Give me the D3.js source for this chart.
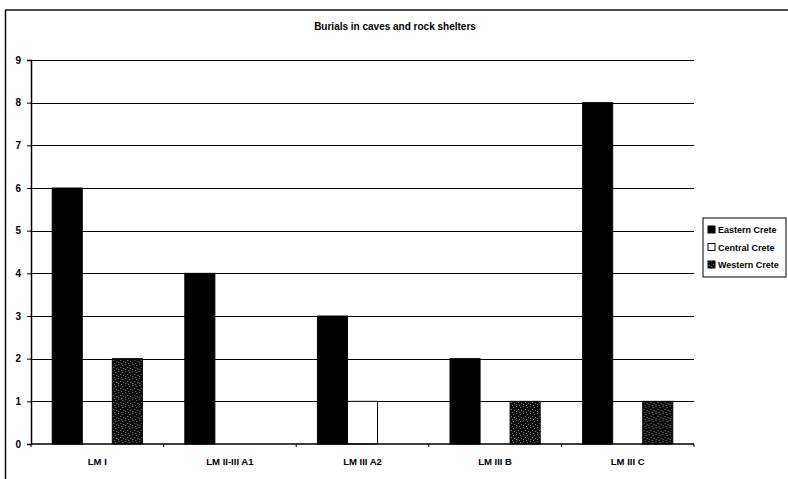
<!DOCTYPE html>
<html>
<head>
<meta charset="utf-8">
<script src="https://cdn.jsdelivr.net/npm/d3@7"></script>
<style>
  html, body { margin: 0; padding: 0; background: #fff; }
  svg { display: block; font-family: "Liberation Sans", Arial, sans-serif; }
</style>
</head>
<body>
<svg id="chart" width="788" height="479"></svg>
<script>
// Burials in caves and rock shelters, by period and region of Crete
const periods = ["LM I", "LM II-III A1", "LM III A2", "LM III B", "LM III C"];
const regions = ["Eastern Crete", "Central Crete", "Western Crete"];
const easternCrete = [6, 4, 3, 2, 8];
const centralCrete = [0, 0, 1, 0, 0];
const westernCrete = [2, 0, 0, 1, 1];
const yTicks = [0, 1, 2, 3, 4, 5, 6, 7, 8, 9];
const title = "Burials in caves and rock shelters";

const seriesValues = [easternCrete, centralCrete, westernCrete];
const rows = periods.map((p, i) => ({
  period: p,
  values: regions.map((r, j) => ({ region: r, value: seriesValues[j][i] }))
}));

const svg = d3.select("#chart");
const W = 788, H = 479;
const margin = { left: 31, right: 94, top: 60, bottom: 35 };

// Speckled dark fill for the western series
const defs = svg.append("defs");
const pat = defs.append("pattern")
  .attr("id", "speckle").attr("patternUnits", "userSpaceOnUse")
  .attr("width", 7).attr("height", 7);
pat.append("rect").attr("width", 7).attr("height", 7).attr("fill", "#0c0c0c");
[[0, 1], [3, 0], [5, 3], [1, 4], [6, 6], [3, 5]].forEach(([x, y]) =>
  pat.append("rect").attr("x", x).attr("y", y).attr("width", 1).attr("height", 1)
    .attr("fill", "#7a7a7a"));

const fills = { "Eastern Crete": "#000", "Central Crete": "#fff", "Western Crete": "url(#speckle)" };

// Outer frame (left and top edges)
svg.append("line").attr("x1", 5.5).attr("x2", 5.5).attr("y1", 10).attr("y2", H)
  .attr("stroke", "#111").attr("stroke-width", 1.5);
svg.append("line").attr("x1", 5).attr("x2", W).attr("y1", 10).attr("y2", 10)
  .attr("stroke", "#111").attr("stroke-width", 1.5);

const x0 = d3.scaleBand().domain(periods).range([margin.left, W - margin.right])
  .paddingInner(0.32).paddingOuter(0.16);
const x1 = d3.scaleBand().domain(regions).range([0, x0.bandwidth()]);
const y = d3.scaleLinear().domain([0, 9]).range([H - margin.bottom, margin.top]);

// Gridlines
svg.append("g").selectAll("line").data(yTicks.filter(t => t > 0)).join("line")
  .attr("x1", margin.left).attr("x2", W - margin.right)
  .attr("y1", d => Math.round(y(d)) + 0.5).attr("y2", d => Math.round(y(d)) + 0.5)
  .attr("stroke", "#000").attr("stroke-width", 1);

// Bars
svg.append("g").selectAll("g").data(rows).join("g")
  .attr("transform", d => `translate(${x0(d.period)},0)`)
  .selectAll("rect").data(d => d.values).join("rect")
  .attr("x", d => x1(d.region))
  .attr("y", d => y(d.value))
  .attr("width", x1.bandwidth())
  .attr("height", d => y(0) - y(d.value))
  .attr("fill", d => fills[d.region])
  .attr("stroke", d => d.value > 0 ? "#000" : "none")
  .attr("stroke-width", 1);

// Y axis
const yAxis = svg.append("g").attr("transform", `translate(${margin.left},0)`)
  .call(d3.axisLeft(y).tickValues(yTicks).tickFormat(d3.format("d")).tickSize(4).tickPadding(6));
yAxis.select(".domain").attr("stroke", "#000").attr("stroke-width", 1.5);
yAxis.selectAll("text").attr("font-size", 10).attr("font-weight", "bold").attr("fill", "#000");

// X axis with ticks between categories
const xAxis = svg.append("g").attr("transform", `translate(0,${y(0)})`);
xAxis.append("line").attr("x1", margin.left).attr("x2", W - margin.right)
  .attr("stroke", "#000").attr("stroke-width", 1.5);
const bounds = d3.range(periods.length + 1).map(i => margin.left + i * (W - margin.right - margin.left) / periods.length);
xAxis.selectAll(".tk").data(bounds).join("line").attr("class", "tk")
  .attr("x1", d => d).attr("x2", d => d).attr("y1", 0).attr("y2", 3)
  .attr("stroke", "#000").attr("stroke-width", 1);
xAxis.selectAll("text").data(periods).join("text")
  .attr("x", d => x0(d) + x0.bandwidth() / 2)
  .attr("y", 21)
  .attr("text-anchor", "middle")
  .attr("font-size", 9.5).attr("font-weight", "bold").attr("fill", "#000")
  .text(d => d);

// Title
svg.append("text").attr("x", 395).attr("y", 30).attr("text-anchor", "middle")
  .attr("font-size", 10).attr("font-weight", "bold").attr("fill", "#000").text(title);

// Legend
const lg = svg.append("g").attr("transform", "translate(703,218)");
lg.append("rect").attr("width", 83).attr("height", 59).attr("fill", "#fff")
  .attr("stroke", "#000").attr("stroke-width", 1);
const items = lg.selectAll("g").data(regions).join("g")
  .attr("transform", (d, i) => `translate(5,${15 + i * 17.5})`);
items.append("rect").attr("x", 0).attr("y", -7).attr("width", 7).attr("height", 7)
  .attr("fill", d => fills[d]).attr("stroke", "#000").attr("stroke-width", 1);
items.append("text").attr("x", 10).attr("y", 0).attr("font-size", 9)
  .attr("font-weight", "bold").attr("fill", "#000").text(d => d);
</script>
</body>
</html>
